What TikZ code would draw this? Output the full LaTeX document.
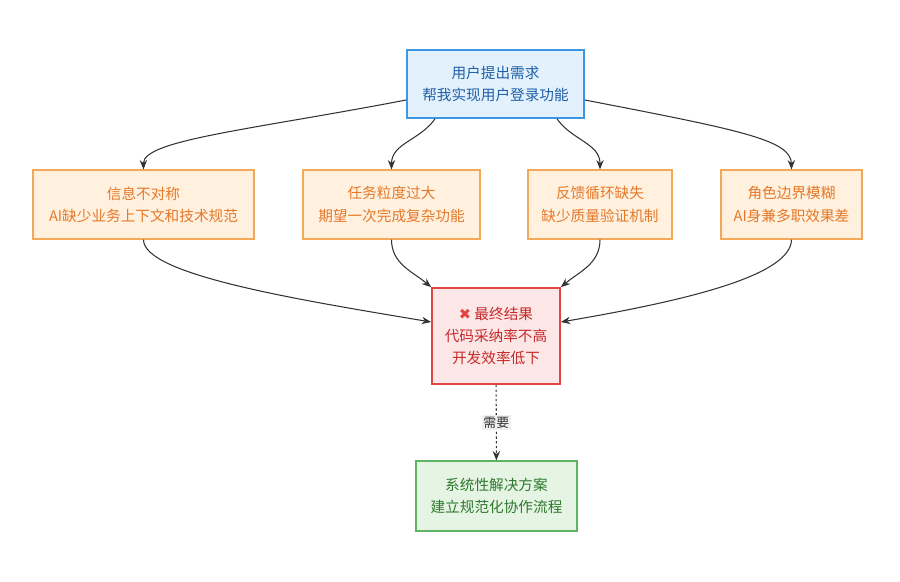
\documentclass[tikz,border=0pt]{standalone}
\usepackage{fontspec}
\setmainfont{Noto Sans CJK SC}
\newfontfamily\symfont{DejaVu Sans}
\usetikzlibrary{arrows.meta,positioning,calc}
\definecolor{bluebd}{HTML}{3C96E6}
\definecolor{bluebg}{HTML}{E3F1FC}
\definecolor{bluetx}{HTML}{1F5FA8}
\definecolor{orgbd}{HTML}{F3A95A}
\definecolor{orgbg}{HTML}{FFF1DE}
\definecolor{orgtx}{HTML}{E5782A}
\definecolor{redbd}{HTML}{E2473F}
\definecolor{redbg}{HTML}{FCE6E6}
\definecolor{redtx}{HTML}{C62A2A}
\definecolor{grnbd}{HTML}{5DB562}
\definecolor{grnbg}{HTML}{E6F4E4}
\definecolor{grntx}{HTML}{2E7A2E}
\tikzset{
  box/.style={draw, line width=1pt, align=center, inner sep=0pt, font=\fontsize{12.5}{19}\selectfont},
  userbox/.style={box, draw=bluebd, fill=bluebg, text=bluetx, line width=1.5pt},
  causebox/.style={box, draw=orgbd, fill=orgbg, text=orgtx},
  resbox/.style={box, draw=redbd, fill=redbg, text=redtx, line width=1.5pt},
  solbox/.style={box, draw=grnbd, fill=grnbg, text=grntx},
  flow/.style={draw=black!80, line width=0.9pt, -{Stealth[length=2.8mm,width=2.2mm]}}
}
\begin{document}
\begin{tikzpicture}[x=0.03cm,y=-0.03cm]
  \useasboundingbox (0,0) rectangle (900,581);
  % request
  \node[userbox, minimum width=177*0.03cm, minimum height=68*0.03cm] (req) at (495.5,84)
    {用户提出需求\\帮我实现用户登录功能};
  % causes
  \node[causebox, minimum width=221*0.03cm, minimum height=69*0.03cm] (info) at (143.5,204.5)
    {信息不对称\\AI缺少业务上下文和技术规范};
  \node[causebox, minimum width=177*0.03cm, minimum height=69*0.03cm] (task) at (391.5,204.5)
    {任务粒度过大\\期望一次完成复杂功能};
  \node[causebox, minimum width=144*0.03cm, minimum height=69*0.03cm] (loop) at (600,204.5)
    {反馈循环缺失\\缺少质量验证机制};
  \node[causebox, minimum width=141*0.03cm, minimum height=69*0.03cm] (role) at (791.5,204.5)
    {角色边界模糊\\AI身兼多职效果差};
  % result
  \node[resbox, minimum width=128*0.03cm, minimum height=96*0.03cm] (res) at (496,336)
    {{\symfont\color{redbd}✖} 最终结果\\代码采纳率不高\\开发效率低下};
  % solution
  \node[solbox, minimum width=161*0.03cm, minimum height=70*0.03cm] (sol) at (496.5,496)
    {系统性解决方案\\建立规范化协作流程};
  % connectors
  \draw[flow] (req.west|-0,100) .. controls (250,130) and (143,140) .. (info.north);
  \draw[flow] (req.south-|435,0) to[out=235,in=90] (task.north);
  \draw[flow] (req.south-|557,0) to[out=305,in=90] (loop.north);
  \draw[flow] (req.east|-0,100) .. controls (740,130) and (791,140) .. (role.north);
  \draw[flow] (info.south) .. controls (143,275) and (300,300) .. (res.west|-0,322);
  \draw[flow] (task.south) to[out=270,in=140] (res.north west);
  \draw[flow] (loop.south) to[out=270,in=40] (res.north east);
  \draw[flow] (role.south) .. controls (791,275) and (690,300) .. (res.east|-0,322);
  \draw[flow, dash pattern=on 2pt off 2pt] (res) -- node[fill=gray!12, inner sep=1.5pt, font=\fontsize{11}{13}\selectfont, text=black!80] (need) {需要} (sol);
\end{tikzpicture}
\end{document}
